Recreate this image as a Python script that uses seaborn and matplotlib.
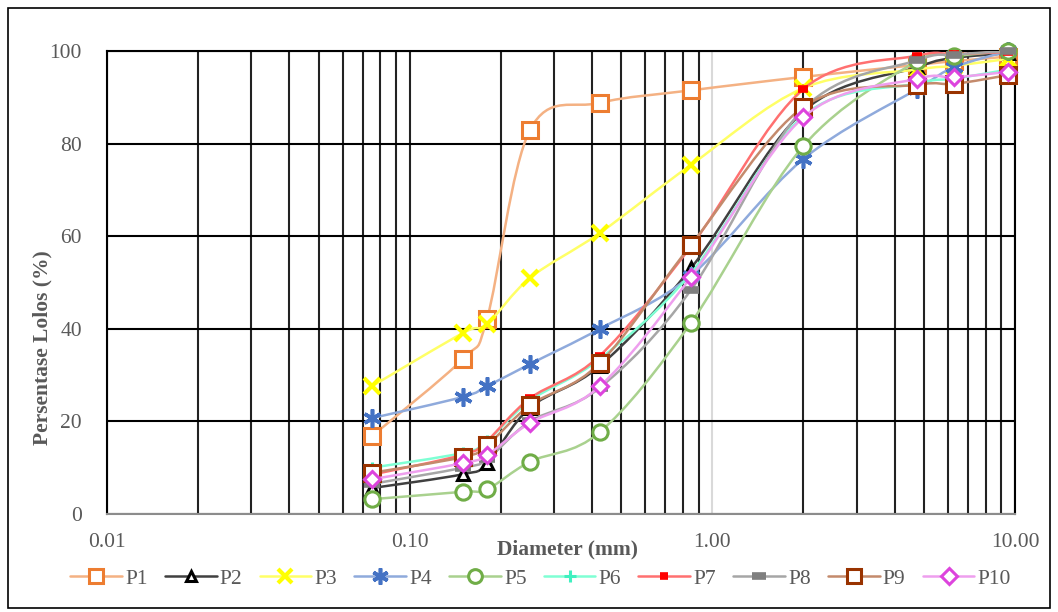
import numpy as np
import matplotlib
matplotlib.use("Agg")
import matplotlib.pyplot as plt
from matplotlib.path import Path
from matplotlib.patches import PathPatch, Rectangle
from matplotlib.lines import Line2D
from matplotlib.ticker import FixedLocator, NullFormatter
import seaborn as sns

# sieve sizes (mm)
diameter = [0.075, 0.15, 0.18, 0.25, 0.425, 0.85, 2.0, 4.75, 6.3, 9.5]

# percent passing per sample
p1 = [16.8, 33.5, 42.1, 83.0, 88.8, 91.5, 94.4, 97.0, 97.8, 98.8]
p2 = [5.6, 8.6, 11.0, 23.0, 32.0, 53.1, 87.0, 96.5, 98.5, 99.5]
p3 = [27.6, 39.1, 41.0, 51.0, 60.7, 75.4, 92.0, 96.0, 96.8, 98.3]
p4 = [20.7, 25.3, 27.6, 32.4, 40.0, 51.5, 76.7, 91.8, 96.5, 100.0]
p5 = [3.2, 4.8, 5.3, 11.3, 17.7, 41.3, 79.5, 97.8, 98.9, 100.0]
p6 = [10.0, 13.2, 15.8, 24.5, 33.5, 52.0, 86.0, 93.0, 94.0, 96.0]
p7 = [8.5, 12.8, 15.8, 25.0, 34.2, 57.8, 91.8, 99.0, 99.3, 99.8]
p8 = [6.5, 10.0, 11.8, 20.0, 27.3, 48.4, 87.5, 98.0, 99.2, 100.0]
p9 = [8.9, 12.3, 14.8, 23.5, 32.6, 58.1, 87.9, 92.7, 92.9, 94.8]
p10 = [7.5, 11.0, 12.7, 19.7, 27.6, 51.2, 85.7, 94.0, 94.3, 95.5]

labels = ["P1", "P2", "P3", "P4", "P5", "P6", "P7", "P8", "P9", "P10"]
series = [p1, p2, p3, p4, p5, p6, p7, p8, p9, p10]

x_ticks = [0.01, 0.1, 1, 10]
x_ticklabels = ["0.01", "0.10", "1.00", "10.00"]
y_ticks = [0, 20, 40, 60, 80, 100]

# style per series: line colour, marker, marker colour, size, edge width
styles = [
    ("#F4B183", "s", "#ED7D31", 11, 2.2),
    ("#404040", "^", "#000000", 8.5, 2.2),
    ("#FFFF66", "x", "#FFFF00", 11, 3.0),
    ("#8FAADC", (6, 2, 0), "#4472C4", 13, 2.6),
    ("#A9D18E", "o", "#70AD47", 11, 2.2),
    ("#7FFFD4", "+", "#40F0C0", 9, 2.2),
    ("#FF7070", "_", "#FF0000", 7, 5.5),
    ("#A6A6A6", "_", "#7F7F7F", 11, 5.5),
    ("#C48A6C", "s", "#993300", 11, 2.2),
    ("#EE9FEE", "D", "#DD44DD", 8.5, 2.2),
]
hollow = ("s", "o", "D", "^")


def smooth_path(xs, ys):
    # excel-like smoothed line: bezier segments in log-x space
    pts = np.column_stack([np.log10(xs), ys])
    n = len(pts)
    verts = [pts[0]]
    codes = [Path.MOVETO]
    for i in range(n - 1):
        p0 = pts[i - 1] if i > 0 else pts[i]
        p3 = pts[i + 2] if i + 2 < n else pts[i + 1]
        c1 = pts[i] + (pts[i + 1] - p0) / 6
        c2 = pts[i + 1] - (p3 - pts[i]) / 6
        verts += [c1, c2, pts[i + 1]]
        codes += [Path.CURVE4] * 3
    verts = np.array(verts)
    verts[:, 0] = 10 ** verts[:, 0]
    return Path(verts, codes)


sns.set_theme(style="white")
plt.rcParams["font.family"] = ["Liberation Serif", "DejaVu Serif"]

fig = plt.figure(figsize=(10.58, 6.12), dpi=100)
ax = fig.add_axes([0.1011, 0.1601, 0.8583, 0.7566])

grey_text = "#595959"
handles = []
for i, (lab, vals, st) in enumerate(zip(labels, series, styles)):
    lc, mk, mc, ms, mew = st
    face = "white" if mk in hollow else mc
    patch = PathPatch(smooth_path(diameter, vals), fill=False, edgecolor=lc,
                      lw=1.8, zorder=3 + 2 * i, capstyle="round")
    ax.add_patch(patch)
    sns.lineplot(x=diameter, y=vals, ax=ax, linestyle="", marker=mk,
                 markersize=ms, mec=mc, mew=mew, mfc=face,
                 color=mc, zorder=4 + 2 * i, clip_on=False, legend=False)
    handles.append(Line2D([], [], color=lc, lw=1.8, marker=mk, markersize=ms * 0.9,
                          mec=mc, mew=mew, mfc=face))

ax.set_xscale("log")
ax.set_xlim(0.01, 10)
ax.set_ylim(0, 100)

ax.xaxis.set_major_locator(FixedLocator(x_ticks))
ax.set_xticklabels(x_ticklabels)
minor = [m * d for d in [0.01, 0.1, 1] for m in range(2, 10)]
ax.xaxis.set_minor_locator(FixedLocator(minor))
ax.xaxis.set_minor_formatter(NullFormatter())
ax.set_yticks(y_ticks)

ax.grid(which="major", axis="y", color="black", lw=1.5, zorder=0)
ax.grid(which="both", axis="x", color="#222222", lw=1.5, zorder=0)
ax.xaxis.get_major_ticks()[2].gridline.set_color("#D9D9D9")
ax.set_axisbelow(True)

ax.tick_params(axis="both", which="both", length=0, labelsize=15.5, colors=grey_text)
ax.tick_params(axis="x", pad=14)
ax.tick_params(axis="y", pad=18)

for s in ["top", "right", "left"]:
    ax.spines[s].set_color("black")
    ax.spines[s].set_linewidth(1.5)
ax.spines["bottom"].set_color("#8C8C8C")
ax.spines["bottom"].set_linewidth(1.5)

ax.set_xlabel("Diameter (mm)", fontsize=15.5, fontweight="bold", color=grey_text)
ax.xaxis.set_label_coords(0.507, -0.054)
ax.set_ylabel("Persentase Lolos (%)", fontsize=15.5, fontweight="bold", color=grey_text)
ax.yaxis.set_label_coords(-0.060, 0.36)

fig.legend(handles, labels, loc="center", bbox_to_anchor=(0.511, 0.054), ncol=10,
           frameon=False, fontsize=15.5, handlelength=2.4, handletextpad=0.15,
           columnspacing=0.8, labelcolor=grey_text)

fig.patches.append(Rectangle((8 / 1058, 4 / 612), 1042 / 1058, 600 / 612, transform=fig.transFigure,
                             fill=False, edgecolor="black", lw=1.2))

fig.savefig("out.png", dpi=100)
